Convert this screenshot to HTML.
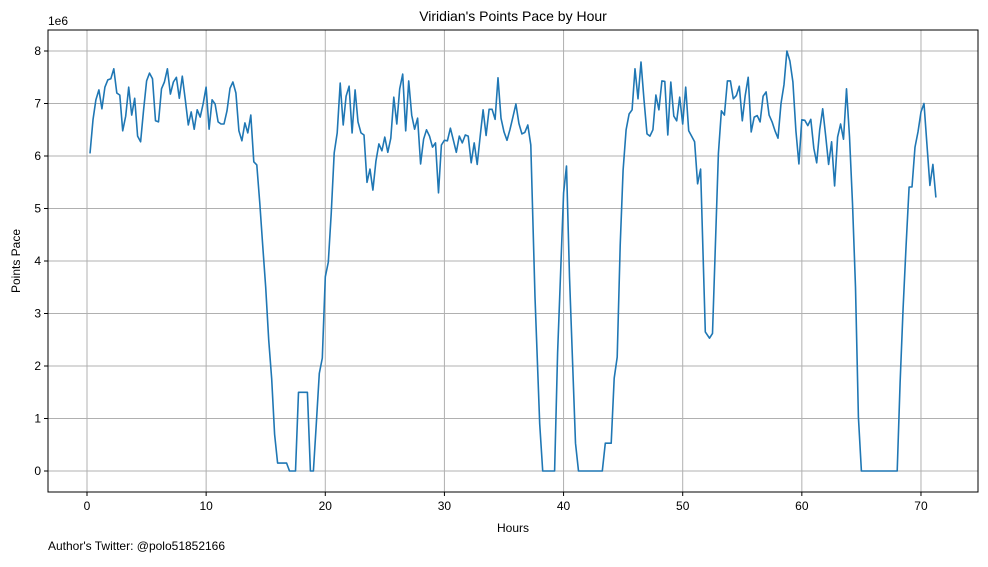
<!DOCTYPE html>
<html><head><meta charset="utf-8"><style>
body{margin:0;background:#fff;font-family:"Liberation Sans","DejaVu Sans",sans-serif;}
svg text{font-family:"Liberation Sans","DejaVu Sans",sans-serif;fill:#000;}
</style></head><body>
<svg id="chart" width="988" height="562" viewBox="0 0 988 562" xmlns="http://www.w3.org/2000/svg">
<rect width="988" height="562" fill="#fff"/>
<g id="grid"></g><g id="ticks"></g>
<path id="line" fill="none" stroke="#1f77b4" stroke-width="1.6" stroke-linejoin="round"/>
<rect x="48" y="30" width="930" height="462" fill="none" stroke="#000" stroke-width="1"/>
<text x="513" y="21" font-size="14" text-anchor="middle">Viridian's Points Pace by Hour</text>
<text x="48" y="25" font-size="12">1e6</text>
<text x="513" y="532" font-size="12" text-anchor="middle">Hours</text>
<text x="20" y="261" font-size="12" text-anchor="middle" transform="rotate(-90 20 261)">Points Pace</text>
<text x="48" y="550" font-size="12">Author's Twitter: @polo51852166</text>
</svg>
<script>
const hours=[0.25,0.5,0.75,1,1.25,1.5,1.75,2,2.25,2.5,2.75,3,3.25,3.5,3.75,4,4.25,4.5,4.75,5,5.25,5.5,5.75,6,6.25,6.5,6.75,7,7.25,7.5,7.75,8,8.25,8.5,8.75,9,9.25,9.5,9.75,10,10.25,10.5,10.75,11,11.25,11.5,11.75,12,12.25,12.5,12.75,13,13.25,13.5,13.75,14,14.25,14.5,14.75,15,15.25,15.5,15.75,16,16.75,17,17.5,17.75,18.5,18.75,19,19.25,19.5,19.75,20,20.25,20.5,20.75,21,21.25,21.5,21.75,22,22.25,22.5,22.75,23,23.25,23.5,23.75,24,24.25,24.5,24.75,25,25.25,25.5,25.75,26,26.25,26.5,26.75,27,27.25,27.5,27.75,28,28.25,28.5,28.75,29,29.25,29.5,29.75,30,30.25,30.5,30.75,31,31.25,31.5,31.75,32,32.25,32.5,32.75,33,33.25,33.5,33.75,34,34.25,34.5,34.75,35,35.25,35.5,35.75,36,36.25,36.5,36.75,37,37.25,37.6,38,38.25,39.25,39.5,40,40.25,40.5,41,41.25,43.25,43.5,44,44.25,44.5,44.75,45,45.25,45.5,45.75,46,46.25,46.5,46.75,47,47.25,47.5,47.75,48,48.25,48.5,48.75,49,49.25,49.5,49.75,50,50.25,50.5,50.75,51,51.25,51.5,51.9,52.25,52.5,53,53.25,53.5,53.75,54,54.25,54.5,54.75,55,55.25,55.5,55.75,56,56.25,56.5,56.75,57,57.25,57.5,57.75,58,58.25,58.5,58.75,59,59.25,59.5,59.75,60,60.25,60.5,60.75,61,61.25,61.5,61.75,62,62.25,62.5,62.75,63,63.25,63.5,63.75,64,64.25,64.5,64.75,65,68,68.25,68.5,68.75,69,69.25,69.5,69.75,70,70.25,70.5,70.75,71,71.25];
const pace=[6.05,6.69,7.07,7.26,6.9,7.31,7.45,7.47,7.66,7.2,7.16,6.48,6.76,7.31,6.78,7.1,6.38,6.27,6.88,7.43,7.58,7.47,6.67,6.65,7.28,7.41,7.66,7.18,7.41,7.5,7.1,7.52,7.07,6.59,6.84,6.51,6.88,6.74,7.0,7.31,6.51,7.07,6.99,6.65,6.61,6.61,6.86,7.29,7.41,7.2,6.48,6.29,6.63,6.44,6.78,5.89,5.83,5.1,4.3,3.5,2.5,1.75,0.7,0.15,0.15,0,0,1.5,1.5,0,0,0.9,1.86,2.15,3.7,3.98,4.9,6.06,6.44,7.39,6.59,7.14,7.33,6.44,7.26,6.65,6.44,6.4,5.5,5.75,5.35,5.9,6.23,6.1,6.36,6.07,6.34,7.12,6.61,7.28,7.56,6.48,7.43,6.78,6.51,6.72,5.85,6.32,6.5,6.38,6.17,6.25,5.3,6.21,6.3,6.29,6.53,6.3,6.07,6.38,6.25,6.4,6.38,5.87,6.25,5.84,6.38,6.88,6.39,6.89,6.89,6.7,7.49,6.72,6.46,6.3,6.5,6.74,6.99,6.62,6.42,6.45,6.59,6.21,3.31,0.9,0,0,2.25,5.3,5.81,3.7,0.53,0,0,0.53,0.53,1.77,2.17,4.3,5.73,6.5,6.8,6.88,7.66,7.09,7.79,7.07,6.42,6.38,6.5,7.16,6.88,7.43,7.42,6.4,7.41,6.76,6.67,7.12,6.61,7.31,6.48,6.38,6.27,5.47,5.75,2.65,2.53,2.62,6.05,6.86,6.78,7.43,7.43,7.09,7.15,7.33,6.67,7.15,7.5,6.46,6.74,6.77,6.65,7.14,7.22,6.78,6.65,6.48,6.34,7.0,7.36,8.0,7.81,7.41,6.48,5.85,6.69,6.68,6.58,6.7,6.15,5.87,6.5,6.9,6.38,5.84,6.27,5.43,6.36,6.61,6.32,7.28,6.37,5.1,3.5,1.03,0,0,1.68,3.1,4.3,5.41,5.41,6.17,6.46,6.84,7.0,6.23,5.44,5.84,5.21];
const xTicks=[0,10,20,30,40,50,60,70];
const yTicks=[0,1,2,3,4,5,6,7,8];
const X=h=>87+h*11.914;
const Y=v=>471-v*52.5;
const NS="http://www.w3.org/2000/svg";
const grid=document.getElementById('grid'),ticks=document.getElementById('ticks');
function mk(tag,attrs,parent){const e=document.createElementNS(NS,tag);for(const k in attrs)e.setAttribute(k,attrs[k]);parent.appendChild(e);return e;}
xTicks.forEach(t=>{
  const g=mk('line',{x1:X(t),x2:X(t),y1:30,y2:492,stroke:'#b0b0b0','stroke-width':1},grid);
  
  
  mk('line',{x1:X(t),x2:X(t),y1:492,y2:496,stroke:'#000'},ticks);
  const tx=mk('text',{x:X(t),y:510,'font-size':12,'text-anchor':'middle'},ticks);
  tx.textContent=t;
  
  
});
yTicks.forEach(t=>{
  const g=mk('line',{x1:48,x2:978,y1:Y(t),y2:Y(t),stroke:'#b0b0b0','stroke-width':1},grid);
  
  
  mk('line',{x1:44,x2:48,y1:Y(t),y2:Y(t),stroke:'#000'},ticks);
  const tx=mk('text',{x:41,y:Y(t)+4,'font-size':12,'text-anchor':'end'},ticks);
  tx.textContent=t;
  
  
});
document.getElementById('line').setAttribute('d',hours.map((h,i)=>(i?'L':'M')+X(h).toFixed(1)+','+Y(pace[i]).toFixed(1)).join(''));
</script>
</body></html>
